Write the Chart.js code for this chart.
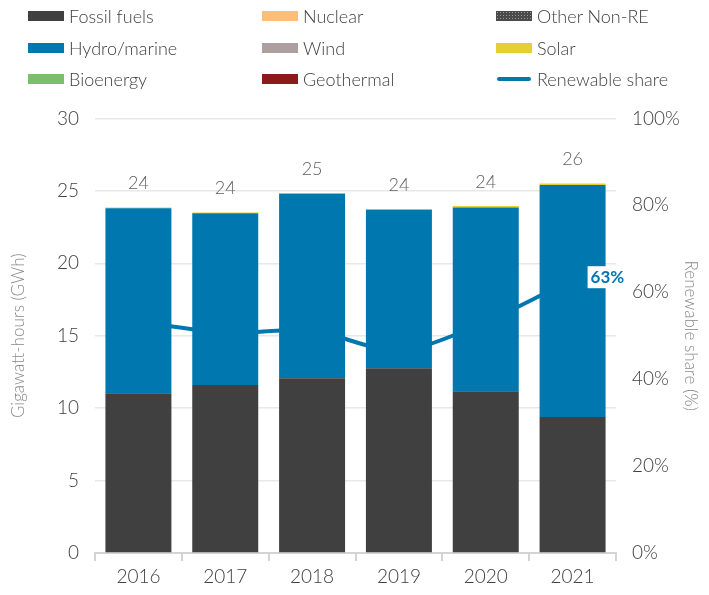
<!DOCTYPE html>
<html>
<head>
<meta charset="utf-8">
<script src="https://cdn.jsdelivr.net/npm/chart.js@4.4.1/dist/chart.umd.min.js"></script>
<style>
  body { margin: 0; background: #fff; font-family: Lato, "Open Sans", sans-serif; }
  #wrap { position: relative; width: 709px; height: 595px; }
  #legend { position: absolute; left: 28px; top: 0; width: 681px; height: 95px; z-index: 2; }
  .item { position: absolute; display: flex; align-items: center; font-size: 18px; font-weight: 300; color: #404040; white-space: nowrap; }
  .sw { width: 36px; height: 10px; margin-right: 5px; }
  .ln { width: 34px; height: 4px; border-radius: 2px; margin-right: 6px; margin-left: 1px; }
  #chartBox { position: absolute; left: 0; top: 91px; width: 709px; height: 504px; }
</style>
</head>
<body>
<div id="wrap">
  <div id="legend"></div>
  <div id="chartBox"><canvas id="mixChart"></canvas></div>
</div>
<script>
const years = ['2016', '2017', '2018', '2019', '2020', '2021'];
const fossil = [11.03, 11.6, 12.07, 12.76, 11.17, 9.38];
const hydro = [12.77, 11.85, 12.73, 10.94, 12.68, 16.02];
const solar = [0.05, 0.05, 0.05, 0.05, 0.1, 0.1];
const nuclear = [0, 0, 0, 0, 0, 0];
const otherNonRe = [0, 0, 0, 0, 0, 0];
const wind = [0, 0, 0, 0, 0, 0];
const bioenergy = [0, 0, 0, 0, 0, 0];
const geothermal = [0, 0, 0, 0, 0, 0];
const renewableShare = [53.3, 50.6, 51.3, 46.2, 53.1, 63];
const leftTicks = [0, 5, 10, 15, 20, 25, 30];

const totals = years.map((y, i) => fossil[i] + hydro[i] + solar[i] + nuclear[i] + otherNonRe[i] + wind[i] + bioenergy[i] + geothermal[i]);

// legend (html, 3 columns)
const legendItems = [
  { label: 'Fossil fuels', color: '#404040' },
  { label: 'Nuclear', color: '#fdbf77' },
  { label: 'Other Non-RE', pattern: true },
  { label: 'Hydro/marine', color: '#0077ae' },
  { label: 'Wind', color: '#ad9fa0' },
  { label: 'Solar', color: '#e5cf33' },
  { label: 'Bioenergy', color: '#78c16a' },
  { label: 'Geothermal', color: '#8b1a1a' },
  { label: 'Renewable share', line: true, color: '#0077ae' }
];
const legend = document.getElementById('legend');
legendItems.forEach((it, i) => {
  const d = document.createElement('div');
  d.className = 'item';
  d.style.left = (i % 3) * 234 + 'px';
  d.style.top = (Math.floor(i / 3) * 31.5 + 5) + 'px';
  const sw = document.createElement('span');
  if (it.line) {
    sw.className = 'ln';
    sw.style.background = it.color;
  } else if (it.pattern) {
    sw.className = 'sw';
    sw.style.background = 'radial-gradient(circle, #9a9a9a 0.8px, transparent 1px) 0 0 / 3px 3px, #4a4a4a';
  } else {
    sw.className = 'sw';
    sw.style.background = it.color;
  }
  d.appendChild(sw);
  d.appendChild(document.createTextNode(it.label));
  legend.appendChild(d);
});

const labelsPlugin = {
  id: 'labels',
  afterDatasetsDraw(chart) {
    const ctx = chart.ctx;
    const x = chart.scales.x, y = chart.scales.y, y2 = chart.scales.y2;
    ctx.save();
    ctx.font = '300 18px Lato, sans-serif';
    ctx.fillStyle = '#606060';
    ctx.textAlign = 'center';
    ctx.textBaseline = 'middle';
    totals.forEach((t, i) => {
      ctx.fillText(Math.round(t), x.getPixelForValue(i), y.getPixelForValue(t) - 24);
    });
    // last share label
    const last = renewableShare.length - 1;
    const px = x.getPixelForValue(last) + 16;
    const py = y2.getPixelForValue(renewableShare[last]) - 2;
    ctx.font = 'bold 17px Lato, sans-serif';
    const txt = Math.round(renewableShare[last]) + '%';
    const w = ctx.measureText(txt).width;
    ctx.fillStyle = '#ffffff';
    ctx.fillRect(px - 1, py - 11, w + 6, 22);
    ctx.fillStyle = '#0077ae';
    ctx.textAlign = 'left';
    ctx.fillText(txt, px + 2, py);
    ctx.restore();
  }
};

function bar(label, data, color) {
  return { type: 'bar', label, data, backgroundColor: color, borderWidth: 0, order: 1, yAxisID: 'y',
    barPercentage: 0.76, categoryPercentage: 1 };
}

const tickFont = { size: 19, family: 'Lato', weight: 300 };
const titleFont = { size: 17, family: 'Lato', weight: 300 };

new Chart(document.getElementById('mixChart'), {
  data: {
    labels: years,
    datasets: [
      bar('Fossil fuels', fossil, '#404040'),
      bar('Nuclear', nuclear, '#fdbf77'),
      bar('Other Non-RE', otherNonRe, '#4a4a4a'),
      bar('Hydro/marine', hydro, '#0077ae'),
      bar('Wind', wind, '#ad9fa0'),
      bar('Solar', solar, '#e5cf33'),
      bar('Bioenergy', bioenergy, '#78c16a'),
      bar('Geothermal', geothermal, '#8b1a1a'),
      {
        type: 'line', label: 'Renewable share', data: renewableShare, yAxisID: 'y2', order: 2,
        borderColor: '#0077ae', borderWidth: 4, pointRadius: 0, tension: 0.2
      }
    ]
  },
  options: {
    responsive: true,
    maintainAspectRatio: false,
    animation: false,
    layout: { padding: { top: 9, left: 8, right: 8, bottom: 0 } },
    plugins: { legend: { display: false }, tooltip: { enabled: false } },
    scales: {
      x: {
        stacked: true,
        grid: { offset: true, drawOnChartArea: false, color: '#d4d4d4', tickLength: 8, lineWidth: 2 },
        border: { color: '#d4d4d4', width: 2 },
        ticks: { color: '#404040', font: tickFont, padding: 4 },
        afterFit(s) { s.height = 42; }
      },
      y: {
        stacked: true, min: 0, max: 30,
        afterBuildTicks(s) { s.ticks = leftTicks.map(v => ({ value: v })); },
        grid: { color: '#e8e8e8', lineWidth: 1.5, drawTicks: false },
        border: { display: false },
        ticks: { color: '#404040', font: tickFont, padding: 16 },
        title: { display: true, text: 'Gigawatt-hours (GWh)', color: '#888888', font: titleFont, padding: 0 },
        afterFit(s) { s.width = 87; }
      },
      y2: {
        position: 'right', min: 0, max: 100,
        grid: { drawOnChartArea: false, drawTicks: false },
        border: { display: false },
        ticks: { stepSize: 20, color: '#404040', font: tickFont, padding: 16, callback: v => v + '%' },
        title: { display: true, text: 'Renewable share (%)', color: '#888888', font: titleFont, padding: 0 },
        afterFit(s) { s.width = 85; }
      }
    }
  },
  plugins: [labelsPlugin]
});
</script>
</body>
</html>
